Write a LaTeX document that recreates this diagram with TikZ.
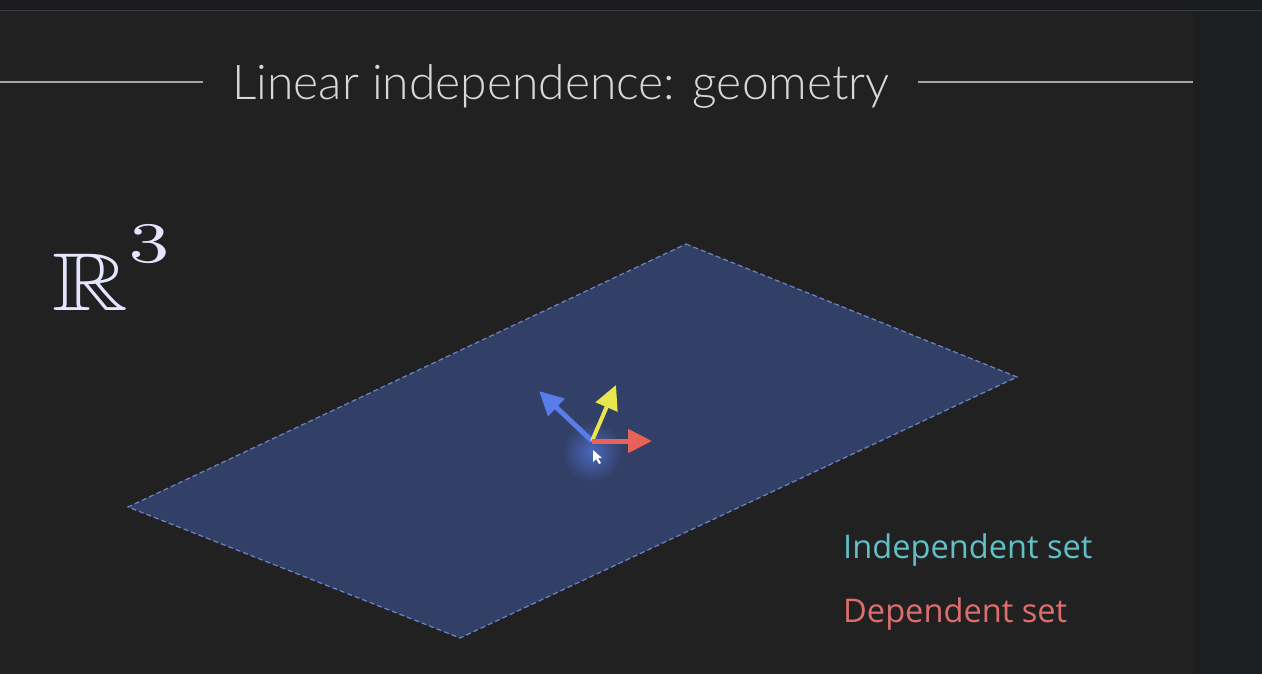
\documentclass[tikz,border=0pt]{standalone}
\usepackage{amsmath,amssymb}
\usepackage{fontspec}
\usepackage{xcolor}
\usepackage{tikz}
\usetikzlibrary{arrows.meta, positioning}
\setmainfont{Open Sans}
\newfontfamily\titlefont{Lato Light}
\definecolor{topBar}{RGB}{27, 28, 30}
\definecolor{barLine}{RGB}{58, 59, 62}
\definecolor{slideBg}{RGB}{33, 33, 33}
\definecolor{sideBg}{RGB}{29, 30, 32}
\definecolor{ruleGray}{RGB}{165, 165, 165}
\definecolor{titleGray}{RGB}{215, 215, 215}
\definecolor{planeFill}{RGB}{50, 63, 102}
\definecolor{planeEdge}{RGB}{110, 132, 200}
\definecolor{vecBlue}{RGB}{88, 125, 235}
\definecolor{vecYellow}{RGB}{232, 230, 78}
\definecolor{vecRed}{RGB}{232, 98, 90}
\definecolor{indepTeal}{RGB}{96, 192, 198}
\definecolor{depRed}{RGB}{222, 110, 110}

\begin{document}
\begin{tikzpicture}[
  x=1pt, y=-1pt,
  rule/.style={draw=ruleGray, line width=2pt},
  plane/.style={fill=planeFill, draw=planeEdge, line width=1.2pt, dash pattern=on 5pt off 3pt},
  vec/.style={line width=5pt, -{Triangle[length=24pt, width=23pt]}},
  legend/.style={anchor=base west, inner sep=0pt, font=\fontsize{32.6}{36}\selectfont}
]
  \useasboundingbox (0,0) rectangle (1262,674);

  % Background
  \fill[topBar] (0,0) rectangle (1262,10);
  \fill[slideBg] (0,11) rectangle (1193,674);
  \fill[sideBg] (1193,11) rectangle (1262,674);
  \draw[barLine, line width=1.5pt] (0,10.5) -- (1262,10.5);

  % Title
  \node[inner sep=0pt, anchor=base, text=titleGray, font=\titlefont\fontsize{48}{56}\selectfont] (title) at (561,100) {Linear independence: geometry};
  \coordinate (ruleL) at (0,82);
  \coordinate (ruleR) at (1193,82);
  \draw[rule] (ruleL) -- (ruleL -| {203,0});
  \draw[rule] (ruleR -| {918,0}) -- (ruleR);

  % Space label
  \node[inner sep=0pt, anchor=base west, text=white!90!blue] (space) at (52,310) {\scalebox{10.5}[8.2]{$\mathbb{R}^{\raisebox{2.2pt}{$\scriptstyle 3$}}$}};

  % Plane
  \coordinate (pTop) at (686,244);
  \coordinate (pRight) at (1017,377);
  \coordinate (pBottom) at (460,638);
  \coordinate (pLeft) at (128,507);
  \path[plane] (pTop) -- (pRight) -- (pBottom) -- (pLeft) -- cycle;

  % Vectors
  \coordinate (origin) at (592,441);
  \shade[inner color=vecBlue!65!planeFill, outer color=planeFill] (592,452) circle (30);
  \coordinate (tipBlue) at (539,391);
  \coordinate (tipYellow) at (616,385);
  \coordinate (tipRed) at (652,441);
  \draw[vec, vecBlue] (origin) -- (tipBlue);
  \draw[vec, vecYellow, line width=4pt] (origin) -- (tipYellow);
  \draw[vec, vecRed] (origin) -- (tipRed);
  \fill[white] (593,450) -- (593,462) -- (596,459) -- (599,464) -- (601,463) -- (598,458) -- (602,458) -- cycle;

  % Legend
  \node[legend, text=indepTeal] (indep) at (843,558) {Independent set};
  \node[legend, text=depRed] (dep) at (843,622) {Dependent set};

\end{tikzpicture}
\end{document}
